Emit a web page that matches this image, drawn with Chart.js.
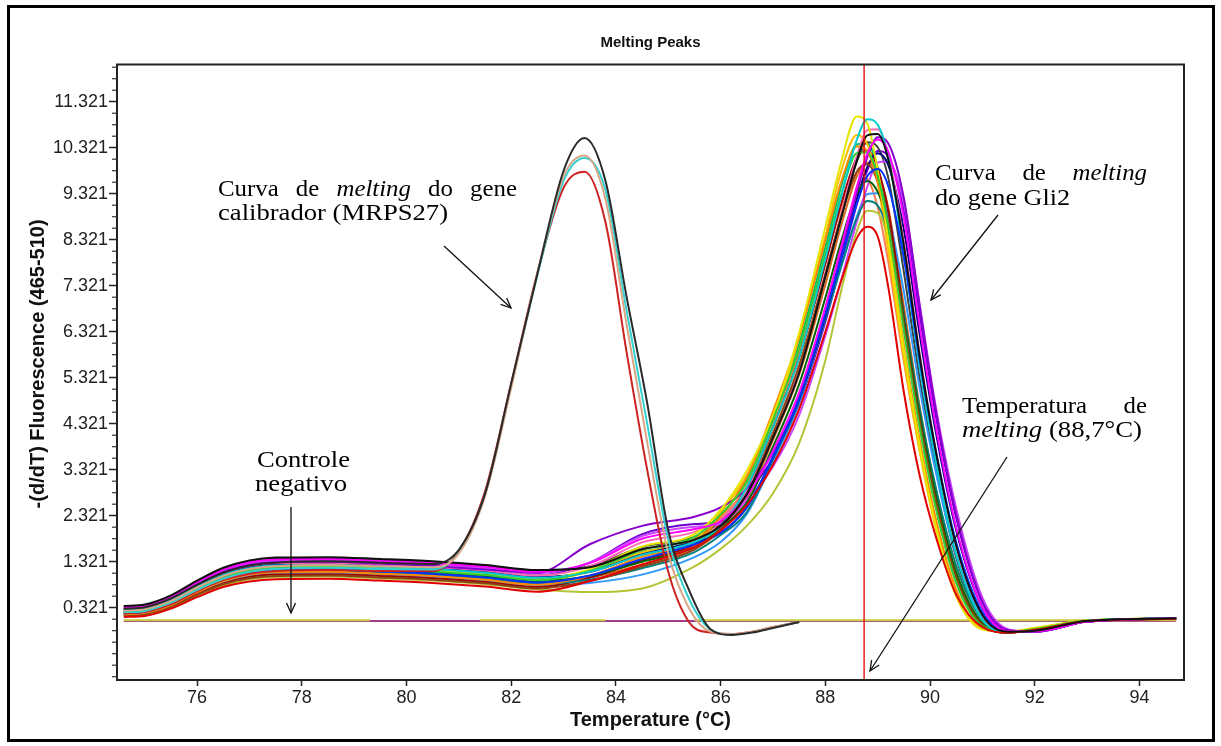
<!DOCTYPE html>
<html>
<head>
<meta charset="utf-8">
<title>Melting Peaks</title>
<script src="https://cdn.jsdelivr.net/npm/chart.js@4.4.1/dist/chart.umd.min.js"></script>
<style>
  html, body { margin: 0; padding: 0; background: #fff; }
  #wrap { width: 1221px; height: 746px; }
</style>
</head>
<body>
<div id="wrap"><canvas id="c" width="1221" height="746"></canvas></div>
<script>
// ---------------- DATA ----------------
const chartTitle = 'Melting Peaks';
const xTitle = 'Temperature (°C)';
const yTitle = '   -(d/dT) Fluorescence (465-510)';
const xTickLabels = ['76', '78', '80', '82', '84', '86', '88', '90', '92', '94'];
const yTickLabels = ['0.321', '1.321', '2.321', '3.321', '4.321', '5.321', '6.321', '7.321', '8.321', '9.321', '10.321', '11.321'];
const meltTemp = 88.74;

// temperature grid shared by the Gli2 curves
const temps = [74.6, 75.0, 75.5, 76.0, 76.5, 77.0, 77.5, 78.5, 79.5, 80.5, 81.5, 82.5, 83.5, 84.5, 85.5, 86.0,
  86.5, 87.0, 87.5, 88.0, 88.3, 88.6, 88.8, 89.0, 89.2, 89.5, 89.8, 90.1, 90.5, 91.0, 91.5, 92.0, 93.0, 94.7];

// Gli2 melting curves
const gli01 = [0.36, 0.39, 0.59, 0.91, 1.19, 1.35, 1.41, 1.42, 1.38, 1.33, 1.25, 1.14, 1.20, 1.59, 1.80, 2.10, 2.79, 4.02, 5.43, 7.52, 8.78, 10.04, 10.59, 10.62, 10.07, 8.18, 5.80, 3.78, 1.66, 0.16, -0.20, -0.18, 0.03, 0.09];
const gli02 = [0.12, 0.14, 0.30, 0.55, 0.77, 0.89, 0.94, 0.95, 0.91, 0.86, 0.78, 0.67, 0.90, 1.26, 1.64, 2.00, 2.55, 3.43, 4.64, 6.32, 7.42, 8.35, 8.60, 8.39, 7.30, 5.00, 3.20, 1.90, 0.60, -0.10, -0.22, -0.16, 0.03, 0.08];
const gli03 = [0.33, 0.36, 0.56, 0.88, 1.15, 1.31, 1.37, 1.38, 1.34, 1.29, 1.21, 1.10, 1.29, 1.82, 2.03, 2.20, 2.75, 3.73, 5.00, 6.86, 8.16, 9.47, 10.19, 10.50, 10.24, 8.78, 6.45, 4.32, 2.06, 0.33, -0.19, -0.19, 0.02, 0.09];
const gli04 = [0.20, 0.23, 0.41, 0.69, 0.94, 1.08, 1.14, 1.15, 1.11, 1.06, 0.98, 0.87, 1.02, 1.38, 1.70, 1.95, 2.50, 3.60, 4.87, 6.71, 7.91, 9.10, 9.70, 9.86, 9.49, 7.92, 5.72, 3.78, 1.74, 0.22, -0.20, -0.18, 0.03, 0.09];
const gli05 = [0.28, 0.31, 0.49, 0.78, 1.04, 1.18, 1.24, 1.25, 1.21, 1.16, 1.08, 0.97, 1.10, 1.47, 1.75, 2.10, 2.94, 4.26, 5.76, 7.90, 9.25, 10.49, 10.94, 10.82, 10.13, 7.98, 5.56, 3.56, 1.47, 0.06, -0.21, -0.17, 0.03, 0.09];
const gli06 = [0.22, 0.25, 0.44, 0.73, 0.98, 1.13, 1.19, 1.20, 1.16, 1.11, 1.03, 0.92, 1.12, 1.58, 1.86, 2.35, 3.06, 4.41, 5.96, 8.01, 9.29, 10.20, 10.22, 9.70, 8.62, 6.33, 4.24, 2.53, 0.86, -0.08, -0.21, -0.14, 0.04, 0.09];
const gli07 = [0.25, 0.28, 0.46, 0.75, 1.01, 1.15, 1.21, 1.22, 1.18, 1.13, 1.05, 0.94, 1.16, 1.65, 1.92, 2.45, 3.30, 4.50, 6.30, 8.60, 10.00, 11.00, 10.85, 9.83, 8.34, 5.91, 3.85, 2.14, 0.59, -0.15, -0.20, -0.12, 0.04, 0.09];
const gli08 = [0.18, 0.21, 0.38, 0.66, 0.90, 1.04, 1.09, 1.10, 1.06, 1.01, 0.93, 0.82, 1.02, 1.43, 1.75, 2.30, 3.16, 4.59, 6.22, 8.31, 9.57, 10.35, 10.24, 9.59, 8.33, 6.02, 3.98, 2.30, 0.71, -0.12, -0.20, -0.13, 0.04, 0.09];
const gli09 = [0.30, 0.33, 0.52, 0.83, 1.10, 1.25, 1.31, 1.32, 1.28, 1.23, 1.15, 1.08, 1.70, 2.10, 2.30, 2.50, 2.91, 3.69, 4.89, 6.73, 8.02, 9.35, 10.11, 10.55, 10.42, 9.22, 6.89, 4.68, 2.34, 0.45, -0.17, -0.20, 0.02, 0.09];
const gli10 = [0.15, 0.18, 0.34, 0.60, 0.83, 0.96, 1.01, 1.02, 0.98, 0.93, 0.85, 0.74, 0.90, 1.22, 1.59, 2.05, 2.79, 4.11, 5.59, 7.57, 8.82, 9.80, 9.96, 9.58, 8.69, 6.50, 4.41, 2.70, 0.98, -0.05, -0.22, -0.15, 0.03, 0.08];
const gli11 = [0.24, 0.27, 0.45, 0.73, 0.97, 1.11, 1.17, 1.18, 1.14, 1.09, 1.01, 0.90, 1.01, 1.32, 1.64, 2.05, 2.60, 3.82, 5.18, 7.06, 8.28, 9.32, 9.60, 9.36, 8.66, 6.59, 4.52, 2.82, 1.08, -0.02, -0.22, -0.16, 0.03, 0.09];
const gli12 = [0.32, 0.35, 0.54, 0.83, 1.08, 1.23, 1.29, 1.30, 1.26, 1.21, 1.13, 1.02, 1.22, 1.74, 1.97, 2.25, 2.86, 4.08, 5.49, 7.59, 8.86, 10.13, 10.70, 10.72, 10.17, 8.26, 5.86, 3.81, 1.67, 0.16, -0.20, -0.18, 0.03, 0.09];
const gli13 = [0.27, 0.30, 0.49, 0.79, 1.05, 1.20, 1.26, 1.27, 1.23, 1.18, 1.10, 0.99, 1.10, 1.48, 1.75, 1.95, 2.50, 3.60, 4.86, 6.67, 7.93, 9.20, 9.90, 10.20, 9.95, 8.53, 6.27, 4.20, 2.00, 0.32, -0.19, -0.19, 0.02, 0.09];
const gli14 = [0.20, 0.23, 0.40, 0.68, 0.92, 1.06, 1.11, 1.12, 1.08, 1.03, 0.95, 0.84, 0.93, 1.18, 1.53, 1.90, 2.40, 3.55, 4.82, 6.61, 7.74, 8.78, 9.16, 9.06, 8.48, 6.67, 4.65, 2.98, 1.23, 0.05, -0.21, -0.17, 0.03, 0.09];
const gli15 = [0.14, 0.17, 0.33, 0.59, 0.81, 0.94, 0.99, 1.00, 0.96, 0.91, 0.83, 0.72, 0.66, 0.74, 1.22, 1.60, 2.10, 2.81, 3.90, 5.70, 7.20, 8.50, 8.95, 8.90, 8.35, 6.60, 4.60, 2.95, 1.20, 0.05, -0.21, -0.17, 0.03, 0.09];
const gli16 = [0.26, 0.29, 0.47, 0.75, 0.99, 1.13, 1.19, 1.20, 1.16, 1.11, 1.03, 0.92, 1.10, 1.52, 1.80, 2.40, 3.20, 4.40, 6.20, 8.40, 9.80, 10.60, 10.40, 9.56, 8.10, 5.75, 3.74, 2.08, 0.57, -0.15, -0.20, -0.12, 0.04, 0.09];
const gli17 = [0.30, 0.33, 0.53, 0.85, 1.12, 1.28, 1.34, 1.35, 1.31, 1.26, 1.18, 1.07, 1.30, 1.88, 2.08, 2.15, 2.66, 3.39, 4.51, 6.24, 7.43, 8.71, 9.47, 10.00, 10.02, 9.11, 6.93, 4.75, 2.48, 0.54, -0.15, -0.20, 0.02, 0.09];
const gli18 = [0.16, 0.19, 0.36, 0.62, 0.85, 0.99, 1.04, 1.05, 1.01, 0.96, 0.88, 0.77, 0.97, 1.35, 1.70, 2.15, 2.92, 4.25, 5.76, 7.80, 9.09, 10.10, 10.26, 9.88, 8.96, 6.70, 4.55, 2.78, 1.01, -0.05, -0.22, -0.15, 0.03, 0.08];
const gli19 = [0.22, 0.25, 0.41, 0.67, 0.89, 1.02, 1.07, 1.08, 1.04, 0.99, 0.91, 0.80, 0.86, 1.04, 1.42, 1.75, 2.36, 3.50, 4.78, 6.61, 7.72, 8.82, 9.31, 9.33, 8.85, 7.19, 5.10, 3.32, 1.46, 0.14, -0.20, -0.18, 0.03, 0.09];
const gli20 = [0.34, 0.37, 0.57, 0.89, 1.17, 1.33, 1.39, 1.40, 1.36, 1.31, 1.23, 1.12, 1.22, 1.64, 1.86, 2.20, 2.83, 4.08, 5.49, 7.54, 8.83, 10.01, 10.44, 10.33, 9.67, 7.61, 5.31, 3.40, 1.40, 0.06, -0.21, -0.17, 0.03, 0.09];
const gli21 = [0.19, 0.22, 0.39, 0.67, 0.92, 1.05, 1.11, 1.12, 1.08, 1.03, 0.95, 0.84, 1.00, 1.37, 1.70, 2.25, 2.97, 4.32, 5.86, 7.83, 9.01, 9.75, 9.65, 9.03, 7.85, 5.67, 3.75, 2.16, 0.67, -0.12, -0.20, -0.13, 0.04, 0.09];
const gli22 = [0.23, 0.26, 0.43, 0.71, 0.96, 1.09, 1.15, 1.16, 1.12, 1.07, 0.99, 0.88, 0.98, 1.26, 1.59, 2.00, 2.69, 3.97, 5.39, 7.35, 8.62, 9.70, 10.00, 9.75, 9.02, 6.86, 4.70, 2.94, 1.13, -0.02, -0.22, -0.16, 0.03, 0.08];
const gli23 = [0.28, 0.31, 0.49, 0.78, 1.03, 1.17, 1.23, 1.24, 1.20, 1.15, 1.07, 0.96, 1.12, 1.53, 1.80, 2.30, 3.11, 4.48, 6.07, 8.16, 9.47, 10.39, 10.41, 9.88, 8.78, 6.45, 4.32, 2.57, 0.87, -0.08, -0.21, -0.14, 0.04, 0.09];
const gli24 = [0.31, 0.34, 0.53, 0.82, 1.08, 1.23, 1.29, 1.30, 1.26, 1.21, 1.13, 1.02, 1.30, 1.92, 2.14, 2.20, 2.80, 3.57, 4.76, 6.54, 7.80, 9.09, 9.83, 10.25, 10.13, 8.96, 6.70, 4.55, 2.27, 0.43, -0.17, -0.20, 0.02, 0.09];
const gliSeries = [gli01, gli02, gli03, gli04, gli05, gli06, gli07, gli08, gli09, gli10, gli11, gli12,
  gli13, gli14, gli15, gli16, gli17, gli18, gli19, gli20, gli21, gli22, gli23, gli24];
const gliColors = ['#111111', '#e00000', '#ff00ff', '#0033ff', '#00cccc', '#33cc33', '#e6e600', '#ff8800',
  '#8800cc', '#8b4513', '#006400', '#ff69b4', '#000080', '#008080', '#b5c435', '#ffc000', '#cc44ff',
  '#a00000', '#3399ff', '#404040', '#ff7f50', '#d2691e', '#00c060', '#6a00d0'];

// calibrator gene (MRPS27) curves
const calTemps = [74.6, 75.0, 75.5, 76.0, 76.5, 77.0, 77.5, 78.5, 79.5, 80.5, 81.0, 81.5, 82.0, 82.5, 83.0, 83.4,
  83.8, 84.2, 84.6, 85.0, 85.4, 85.8, 86.2, 86.6, 87.0, 87.5];
const cal1 = [0.30, 0.33, 0.52, 0.82, 1.08, 1.24, 1.30, 1.33, 1.30, 1.27, 1.58, 2.80, 5.20, 7.58, 9.82, 10.53, 9.60, 7.10, 4.75, 2.00, 0.69, -0.14, -0.27, -0.22, -0.12, 0.01];
const cal2 = [0.26, 0.29, 0.47, 0.76, 1.01, 1.16, 1.22, 1.25, 1.22, 1.20, 1.50, 2.75, 5.10, 7.60, 9.70, 10.15, 9.20, 6.50, 3.90, 1.50, 0.30, -0.20, -0.26, -0.20, -0.10, 0.01];
const cal3 = [0.22, 0.25, 0.43, 0.71, 0.95, 1.10, 1.16, 1.19, 1.16, 1.15, 1.52, 2.78, 5.15, 7.55, 9.60, 10.10, 9.40, 6.80, 4.30, 1.80, 0.50, -0.15, -0.26, -0.21, -0.11, 0.01];
const cal4 = [0.20, 0.23, 0.40, 0.68, 0.92, 1.06, 1.12, 1.14, 1.12, 1.12, 1.55, 2.85, 5.20, 7.60, 9.45, 9.80, 8.70, 5.90, 3.30, 1.10, 0.00, -0.22, -0.25, -0.20, -0.10, 0.01];
const calSeries = [cal1, cal2, cal3, cal4];
const calColors = ['#2a2a2a', '#d8a585', '#33d0d0', '#cc2222'];

// negative controls (flat)
const negTemps = [74.6, 79.3, 80.3, 81.4, 83.8, 84.6, 85.5, 94.7];
const negYellow = [0.05, 0.05, null, 0.05, 0.05, null, 0.05, 0.05];
const negPurpleTemps = [74.6, 94.7];
const negPurple = [0.03, 0.03];

// axis ranges
const xMin = 74.47, xMax = 94.85;
const yMin = -1.251, yMax = 12.13;

// ---------------- BUILD ----------------
const pts = (xs, ys) => xs.map((x, i) => ({ x: x, y: ys[i] }));
const datasets = [];
datasets.push({ label: 'Tm', data: pts([meltTemp, meltTemp], [yMin, yMax]), borderColor: '#e01010', borderWidth: 1.4, tension: 0, cubicInterpolationMode: 'default' });
calSeries.forEach((s, i) => datasets.push({ label: 'MRPS27 ' + (i + 1), data: pts(calTemps, s), borderColor: calColors[i] }));
gliSeries.forEach((s, i) => datasets.push({ label: 'Gli2 ' + (i + 1), data: pts(temps, s), borderColor: gliColors[i] }));
datasets.push({ label: 'NC1', data: pts(negTemps, negYellow), borderColor: '#c8cc3c', spanGaps: false, tension: 0, cubicInterpolationMode: 'default' });
datasets.push({ label: 'NC2', data: pts(negPurpleTemps, negPurple), borderColor: '#a03c8c', tension: 0, cubicInterpolationMode: 'default' });

const SERIF = '"Liberation Serif", "Times New Roman", serif';
const FS = 23;

function lineFont(it) { return (it ? 'italic ' : '') + FS + 'px ' + SERIF; }

function drawJustified(ctx, words, x0, x1, yb) {
  const sx = 1.08;
  const w = words.map(([t, it]) => { ctx.font = lineFont(it); return ctx.measureText(t).width * sx; });
  const total = w.reduce((a, b) => a + b, 0);
  const gap = (x1 - x0 - total) / (words.length - 1);
  let x = x0;
  words.forEach(([t, it], i) => {
    ctx.save(); ctx.font = lineFont(it); ctx.translate(x, yb); ctx.scale(sx, 1); ctx.fillText(t, 0, 0); ctx.restore();
    x += w[i] + gap;
  });
}
function drawScaled(ctx, parts, x0, x1, yb) {
  const w = parts.map(([t, it]) => { ctx.font = lineFont(it); return ctx.measureText(t).width; });
  const total = w.reduce((a, b) => a + b, 0);
  const sx = (x1 - x0) / total;
  ctx.save(); ctx.translate(x0, yb); ctx.scale(sx, 1);
  let x = 0;
  parts.forEach(([t, it], i) => { ctx.font = lineFont(it); ctx.fillText(t, x, 0); x += w[i]; });
  ctx.restore();
}
function arrow(ctx, x0, y0, x1, y1) {
  ctx.beginPath(); ctx.moveTo(x0, y0); ctx.lineTo(x1, y1); ctx.stroke();
  const ang = Math.atan2(y1 - y0, x1 - x0), L = 11, w = 0.42;
  ctx.beginPath();
  ctx.moveTo(x1 - L * Math.cos(ang - w), y1 - L * Math.sin(ang - w));
  ctx.lineTo(x1, y1);
  ctx.lineTo(x1 - L * Math.cos(ang + w), y1 - L * Math.sin(ang + w));
  ctx.stroke();
}

const decor = {
  id: 'decor',
  beforeDraw(chart) {
    const ctx = chart.ctx;
    ctx.save(); ctx.fillStyle = '#fff'; ctx.fillRect(0, 0, chart.width, chart.height); ctx.restore();
  },
  afterDraw(chart) {
    const ctx = chart.ctx, a = chart.chartArea, ys = chart.scales.y;
    ctx.save();
    // plot box
    ctx.strokeStyle = '#222'; ctx.lineWidth = 2;
    ctx.strokeRect(a.left, a.top, a.right - a.left, a.bottom - a.top);
    // minor y ticks (every 0.25)
    ctx.lineWidth = 1.2; ctx.strokeStyle = '#333';
    const base = parseFloat(yTickLabels[0]);
    for (let k = Math.ceil((yMin - base) / 0.25); k <= Math.floor((yMax - base) / 0.25); k++) {
      const v = base + k * 0.25;
      const major = (k % 4 === 0) && k >= 0 && k / 4 < yTickLabels.length;
      if (major) continue;
      const py = ys.getPixelForValue(v);
      ctx.beginPath(); ctx.moveTo(a.left - 5, py); ctx.lineTo(a.left, py); ctx.stroke();
    }
    // outer frame
    ctx.strokeStyle = '#000'; ctx.lineWidth = 3;
    ctx.strokeRect(8.5, 6.5, 1205, 734);
    // annotations
    ctx.fillStyle = '#000'; ctx.strokeStyle = '#111'; ctx.lineWidth = 1.3;
    ctx.textBaseline = 'alphabetic'; ctx.textAlign = 'left';
    drawJustified(ctx, [['Curva', 0], ['de', 0], ['melting', 1], ['do', 0], ['gene', 0]], 218, 517, 196);
    drawScaled(ctx, [['calibrador (MRPS27)', 0]], 218, 448, 220);
    arrow(ctx, 444, 246, 511, 308);

    drawJustified(ctx, [['Curva', 0], ['de', 0], ['melting', 1]], 935, 1147, 180);
    drawScaled(ctx, [['do gene Gli2', 0]], 935, 1070, 205);
    arrow(ctx, 998, 215, 931, 300);

    drawJustified(ctx, [['Temperatura', 0], ['de', 0]], 962, 1147, 413);
    drawScaled(ctx, [['melting', 1], [' (88,7°C)', 0]], 962, 1142, 437);
    arrow(ctx, 1007, 457, 870, 671);

    drawScaled(ctx, [['Controle', 0]], 257, 350, 467);
    drawScaled(ctx, [['negativo', 0]], 255, 347, 491);
    arrow(ctx, 291, 507, 291, 613);
    ctx.restore();
  }
};

Chart.defaults.font.family = '"Liberation Sans", Arial, sans-serif';

new Chart(document.getElementById('c'), {
  type: 'line',
  data: { datasets: datasets },
  options: {
    responsive: false,
    animation: false,
    devicePixelRatio: 1,
    events: [],
    layout: { padding: { left: 0, right: 37, top: 0, bottom: 0 } },
    elements: {
      point: { radius: 0 },
      line: { borderWidth: 2, cubicInterpolationMode: 'monotone', fill: false }
    },
    plugins: {
      legend: { display: false },
      tooltip: { enabled: false },
      title: {
        display: true, text: chartTitle, fullSize: false, color: '#111',
        font: { size: 15, weight: 'bold' },
        padding: { top: 34, bottom: 12.5 }
      }
    },
    scales: {
      x: {
        type: 'linear', min: xMin, max: xMax,
        afterFit(s) { s.height = 66; },
        afterBuildTicks(s) { s.ticks = xTickLabels.map(t => ({ value: parseFloat(t) })); },
        ticks: {
          autoSkip: false, maxRotation: 0, padding: 1, color: '#222',
          font: { size: 18 },
          callback: (v, i) => xTickLabels[i]
        },
        grid: { drawOnChartArea: false, drawTicks: true, tickLength: 6, tickColor: '#222', tickWidth: 1.5 },
        border: { display: true, color: '#222', width: 2 },
        title: {
          display: true, text: xTitle, color: '#111',
          font: { size: 20, weight: 'bold' },
          padding: { top: 0, bottom: 13.5 }
        }
      },
      y: {
        type: 'linear', min: yMin, max: yMax,
        afterFit(s) { s.width = 117; },
        afterBuildTicks(s) { s.ticks = yTickLabels.map(t => ({ value: parseFloat(t) })); },
        ticks: {
          autoSkip: false, padding: 1, color: '#222',
          font: { size: 18 },
          callback: (v, i) => yTickLabels[i]
        },
        grid: { drawOnChartArea: false, drawTicks: true, tickLength: 8, tickColor: '#222', tickWidth: 1.5 },
        border: { display: true, color: '#222', width: 2 },
        title: {
          display: true, text: yTitle, color: '#111',
          font: { size: 20, weight: 'bold' },
          padding: { top: 26, bottom: 0 }
        }
      }
    }
  },
  plugins: [decor]
});
</script>
</body>
</html>
